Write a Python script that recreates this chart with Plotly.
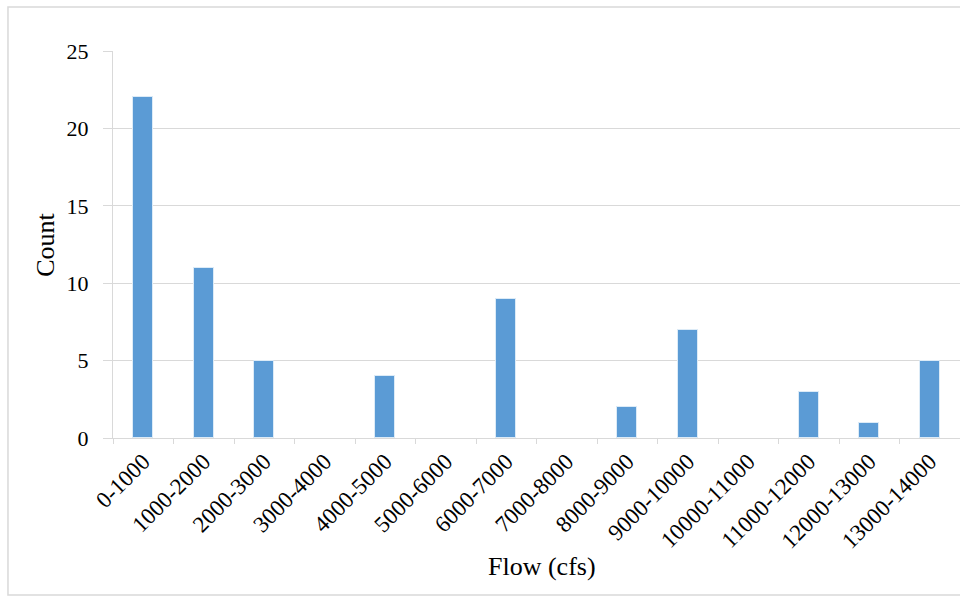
import plotly.graph_objects as go

# Histogram of flow ranges
categories = ["0-1000", "1000-2000", "2000-3000", "3000-4000", "4000-5000",
              "5000-6000", "6000-7000", "7000-8000", "8000-9000", "9000-10000",
              "10000-11000", "11000-12000", "12000-13000", "13000-14000"]
counts = [22, 11, 5, 0, 4, 0, 9, 0, 2, 7, 0, 3, 1, 5]

FONT = "Liberation Serif, Times New Roman, serif"
GRID = "#d9d9d9"

# outline only on non-empty bins so empty bins draw nothing
edge_widths = [1 if c > 0 else 0 for c in counts]

fig = go.Figure(go.Bar(
    x=categories, y=counts,
    marker=dict(color="#5b9bd5", line=dict(color="#dcebf7", width=edge_widths)),
    width=0.33,
))

fig.update_layout(
    width=960, height=596,
    margin=dict(l=113, r=0, t=51, b=158),
    paper_bgcolor="white", plot_bgcolor="white",
    font=dict(family=FONT, color="black"),
    showlegend=False,
    bargap=0,
    shapes=[dict(type="rect", xref="paper", yref="paper",
                 x0=-0.124, x1=1.02, y0=-0.406, y1=1.114,
                 line=dict(color=GRID, width=1.5), layer="below")],
    annotations=[
        dict(text="Flow (cfs)", xref="paper", yref="paper",
             x=0.507, y=-0.333, xanchor="center", yanchor="middle",
             showarrow=False, font=dict(size=26, family=FONT)),
        dict(text="Count", xref="paper", yref="paper",
             x=-0.08, y=0.5, xanchor="center", yanchor="middle",
             textangle=-90, showarrow=False, font=dict(size=26, family=FONT)),
    ],
)

fig.update_xaxes(
    type="category", tickangle=-45, tickson="boundaries",
    ticks="outside", ticklen=5, tickcolor=GRID,
    showline=True, linecolor=GRID, linewidth=1,
    showgrid=False, tickfont=dict(size=23, family=FONT),
)
fig.update_yaxes(
    range=[0, 25], dtick=5,
    ticks="outside", ticklen=9, tickcolor=GRID,
    showline=True, linecolor=GRID, linewidth=1,
    showgrid=True, gridcolor=GRID, gridwidth=1, zeroline=False,
    tickfont=dict(size=22, family=FONT), ticklabelstandoff=10,
)

fig.write_html("out.html")
